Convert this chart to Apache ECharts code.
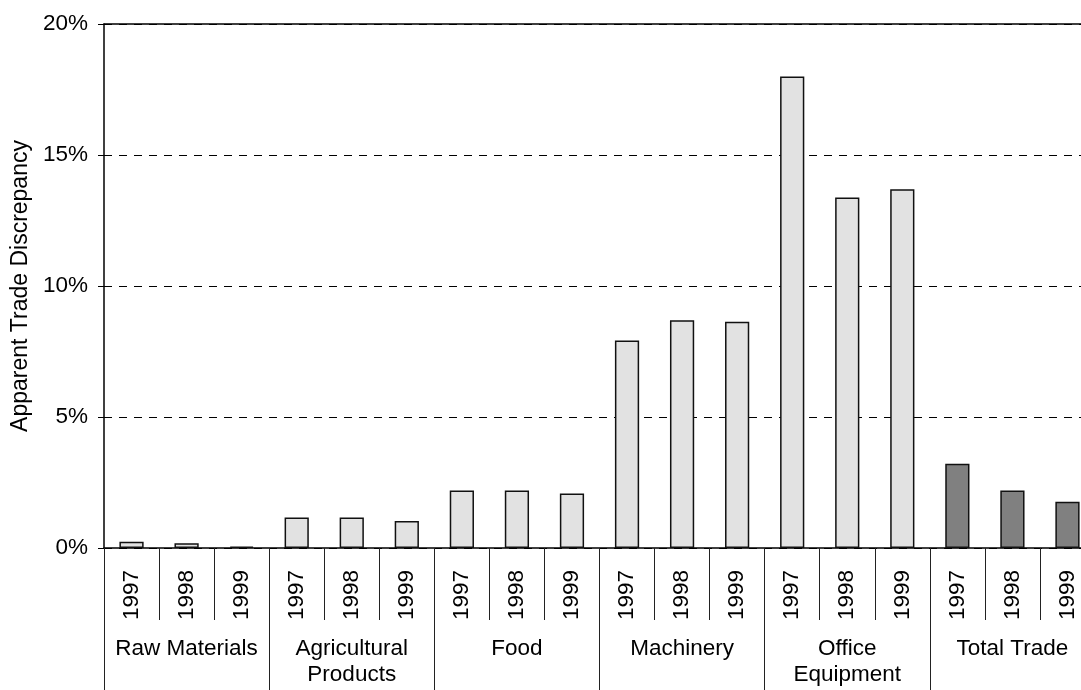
<!DOCTYPE html>
<html>
<head>
<meta charset="utf-8">
<script src="https://cdn.jsdelivr.net/npm/echarts@6/dist/echarts.min.js"></script>
<style>
html,body{margin:0;padding:0;background:#fff;overflow:hidden;}
#chart{width:1081px;height:690px;}
</style>
</head>
<body>
<div id="chart"></div>
<script>
// ---- data ----
const groups = ['Raw Materials', 'Agricultural\nProducts', 'Food', 'Machinery', 'Office\nEquipment', 'Total Trade'];
const years = ['1997', '1998', '1999'];
const rawMaterials = [0.0024, 0.0018, 0.0005];
const agricultural = [0.0116, 0.0116, 0.0103];
const food = [0.0219, 0.0219, 0.0208];
const machinery = [0.0792, 0.0869, 0.0864];
const officeEquipment = [0.180, 0.1338, 0.1369];
const totalTrade = [0.0322, 0.0219, 0.0177];
const yTicks = [0, 0.05, 0.10, 0.15, 0.20];

const groupValues = [rawMaterials, agricultural, food, machinery, officeEquipment, totalTrade];
const darkGroups = ['Total Trade'];

const categories = [];
const barData = [];
groups.forEach((g, gi) => {
  years.forEach((y, yi) => {
    categories.push(g + '|' + y);
    const dark = darkGroups.indexOf(g) >= 0;
    barData.push({
      value: groupValues[gi][yi],
      itemStyle: { color: dark ? '#808080' : '#e2e2e2' }
    });
  });
});

const FONT = "'Liberation Sans', Arial, sans-serif";
const FS = 22.5;

const chart = echarts.init(document.getElementById('chart'), null, { renderer: 'canvas' });
chart.setOption({
  animation: false,
  backgroundColor: '#fff',
  grid: { left: 104, top: 24, width: 991, bottom: 142, containLabel: false, outerBoundsMode: 'none' },
  xAxis: [
    {
      type: 'category',
      data: categories,
      position: 'bottom',
      axisLine: { show: true, lineStyle: { color: '#000', width: 1.5 } },
      axisTick: { show: true, interval: 0, length: 72, lineStyle: { color: '#222', width: 1 } },
      axisLabel: {
        interval: 0, rotate: 90, margin: 22, hideOverlap: false,
        fontFamily: FONT, fontSize: FS, color: '#000',
        formatter: v => v.split('|')[1]
      },
      splitLine: { show: false }
    },
    {
      type: 'category',
      data: groups,
      position: 'bottom',
      axisLine: { show: false },
      axisTick: { show: true, interval: 0, length: 142, lineStyle: { color: '#222', width: 1 } },
      axisLabel: {
        interval: 0, margin: 88,
        fontFamily: FONT, fontSize: FS, color: '#000', lineHeight: 26
      },
      splitLine: { show: false }
    },
    {
      type: 'category',
      data: categories,
      position: 'top',
      axisLine: { show: true, lineStyle: { color: '#000', width: 1.5 } },
      axisTick: { show: false },
      axisLabel: { show: false },
      splitLine: { show: false }
    }
  ],
  yAxis: {
    type: 'value',
    min: yTicks[0],
    max: yTicks[yTicks.length - 1],
    interval: 0.05,
    name: 'Apparent Trade Discrepancy',
    nameLocation: 'middle',
    nameGap: 72,
    nameTextStyle: { fontFamily: FONT, fontSize: 23, color: '#000' },
    axisLine: { show: true, lineStyle: { color: '#000', width: 1.5 } },
    axisTick: { show: true, length: 6, lineStyle: { color: '#000', width: 1 } },
    axisLabel: {
      margin: 16, fontFamily: FONT, fontSize: FS, color: '#000',
      formatter: v => Math.round(v * 100) + '%'
    },
    splitLine: { show: true, lineStyle: { color: '#000', width: 1, type: [8, 7] } }
  },
  series: [{
    type: 'bar',
    xAxisIndex: 0,
    data: barData,
    barWidth: '44%',
    itemStyle: { borderColor: '#111', borderWidth: 1.5 }
  }]
});
</script>
</body>
</html>
